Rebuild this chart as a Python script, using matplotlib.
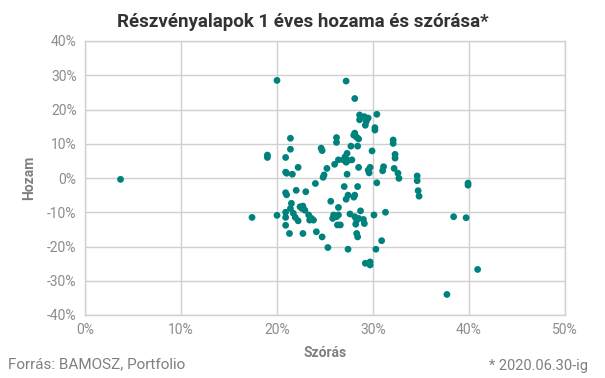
import matplotlib
matplotlib.use("Agg")
import matplotlib.pyplot as plt
from matplotlib.ticker import FuncFormatter, MultipleLocator

szoras = [3.7, 17.4, 19.0, 19.0, 20.0, 20.0, 20.9, 20.9, 21.0, 21.6, 21.4, 21.4, 22.2, 20.9, 21.0,
          22.0, 23.0, 24.0, 21.5, 21.4, 22.4, 22.7, 22.9, 22.6, 20.9, 20.9, 21.7, 21.9, 22.2, 20.9,
          21.3, 22.7, 23.3, 23.6, 23.8, 23.4, 24.1, 24.7, 25.3, 24.6, 24.7, 25.2, 24.9, 24.8, 25.6,
          26.4, 25.9, 26.4, 25.8, 26.2, 26.3, 26.6, 26.2, 26.2, 26.4, 26.0, 27.3, 27.1, 26.9, 27.4,
          27.2, 27.8, 27.3, 27.0, 28.4, 27.4, 27.2, 28.1, 28.0, 27.6, 28.7, 28.1, 28.3, 28.2, 28.5,
          29.0, 29.1, 28.3, 28.4, 27.4, 27.2, 28.1, 28.6, 29.1, 29.5, 28.6, 29.3, 29.2, 30.4, 30.2,
          30.2, 28.1, 28.0, 28.3, 28.5, 27.7, 28.4, 29.9, 28.5, 29.7, 29.5, 29.6, 30.4, 30.1, 31.3,
          30.3, 30.9, 29.2, 29.7, 29.7, 31.1, 31.0, 32.1, 32.1, 32.3, 32.3, 32.2, 32.6, 32.7, 34.6,
          34.6, 34.7, 34.8, 37.7, 38.4, 39.7, 39.9, 39.9, 40.9]
hozam = [-0.4, -11.5, 6.7, 6.0, 28.5, -10.9, 6.0, 1.7, 1.4, 1.1, 11.6, 8.4, 3.1, -4.3, -4.9,
         -3.6, -4.0, -1.6, -7.4, -8.9, -8.4, -8.2, -9.4, -8.9, -10.0, -11.5, -10.3, -11.5, -12.5, -13.8,
         -16.2, -16.2, -10.8, -11.8, -12.3, -12.3, -15.7, -17.2, -20.3, 8.7, 8.0, 2.8, 0.9, 0.2, -6.8,
         -8.6, -10.8, -10.8, -11.8, -11.3, -13.7, -13.7, 11.8, 10.4, 5.3, 4.0, 7.2, 6.2, 5.3, 5.1,
         4.6, 5.3, 1.1, -2.5, -2.5, -5.0, -6.2, -5.0, -5.6, -10.5, -9.6, -11.3, -12.3, -13.5, -11.8,
         -12.1, -13.3, -16.2, -17.2, -20.8, 28.3, 23.2, 18.4, 17.9, 17.5, 17.0, 16.5, 15.4, 18.6, 14.7,
         14.0, 13.1, 12.5, 11.9, 11.4, 9.3, 9.3, 7.9, 3.1, 3.1, 2.3, 1.5, -1.4, -10.8, -10.0,
         -20.8, -18.3, -24.9, -24.5, -25.4, 3.3, 2.1, 11.1, 10.1, 6.9, 5.8, 2.8, 1.4, -0.1, 0.6,
         -0.8, -3.7, -5.3, -34.0, -11.3, -11.6, -1.5, -2.1, -26.7]

title = "Részvényalapok 1 éves hozama és szórása*"
xlabel = "Szórás"
ylabel = "Hozam"
source = "Forrás: BAMOSZ, Portfolio"
note = "* 2020.06.30-ig"

plt.rcParams['font.family'] = ['Roboto', 'DejaVu Sans']

fig = plt.figure(figsize=(6.05, 3.78), dpi=100)
ax = fig.add_axes([85/605, 1-315/378, 480/605, 274/378])

ax.scatter(szoras, hozam, s=24, color='#00827C', edgecolors='none', zorder=3)

ax.set_xlim(0, 50)
ax.set_ylim(-40, 40)
ax.xaxis.set_major_locator(MultipleLocator(10))
ax.yaxis.set_major_locator(MultipleLocator(10))
pct = FuncFormatter(lambda v, p: f"{v:.0f}%")
ax.xaxis.set_major_formatter(pct)
ax.yaxis.set_major_formatter(pct)
ax.grid(True, color='#d0d0d0', linewidth=1, zorder=0)
for s in ax.spines.values():
    s.set_color('#d0d0d0')
    s.set_linewidth(1)
ax.tick_params(length=0, labelsize=10, colors='#8c8c8c', pad=6)
ax.set_axisbelow(True)

ax.set_xlabel(xlabel, fontsize=10, fontweight='bold', color='#7f7f7f', labelpad=6)
ax.set_ylabel(ylabel, fontsize=10, fontweight='bold', color='#7f7f7f', labelpad=8)

fig.text(0.5, 1-22/378, title, ha='center', va='center', fontsize=13.5,
         fontweight='bold', color='#333333')
fig.text(8/605, 1-364/378, source, ha='left', va='center', fontsize=11, color='#7f7f7f')
fig.text(588/605, 1-366/378, note, ha='right', va='center', fontsize=10.5, color='#7f7f7f')

fig.savefig('out.png', dpi=100)
